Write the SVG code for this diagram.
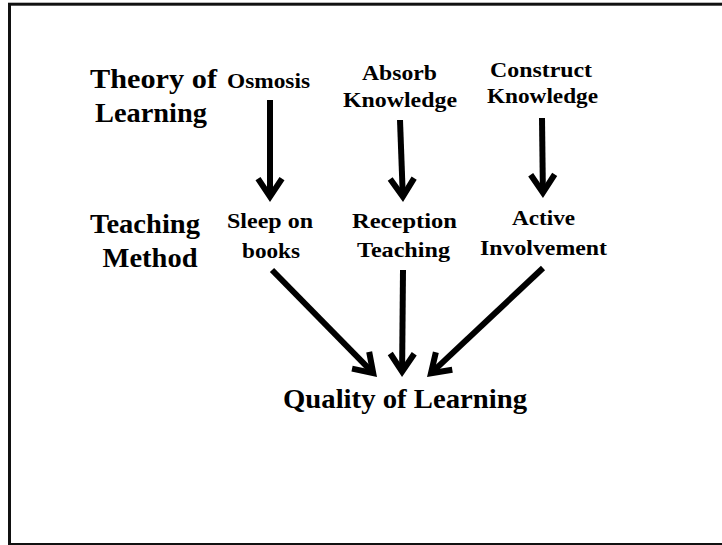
<svg xmlns="http://www.w3.org/2000/svg" width="722" height="545" viewBox="0 0 722 545">
<style>
.big{font-family:"Liberation Serif","Times New Roman",serif;font-weight:bold;font-size:28px;fill:#000;text-anchor:middle}
.sm{font-family:"Liberation Serif","Times New Roman",serif;font-weight:bold;font-size:21px;fill:#000;text-anchor:middle}
.arr{stroke:#000;stroke-width:6;fill:none;stroke-linecap:butt;marker-end:url(#head)}
</style>
<defs>
<marker id="head" viewBox="-22 -16 30 32" markerWidth="30" markerHeight="32" refX="0" refY="0" orient="auto" markerUnits="userSpaceOnUse" overflow="visible">
<path d="M-17.4,-12 L0.6,0 L-17.4,12" fill="none" stroke="#000" stroke-width="6" stroke-linejoin="miter"/>
</marker>
</defs>
<rect x="0" y="0" width="722" height="545" fill="#fff"/>
<rect x="9.5" y="4.2" width="720" height="540.3" fill="none" stroke="#111" stroke-width="3"/>
<g id="theory-label">
<text class="big" x="153.5" y="88" textLength="127" lengthAdjust="spacingAndGlyphs">Theory of</text>
<text class="big" x="151" y="122" textLength="112" lengthAdjust="spacingAndGlyphs">Learning</text>
</g>
<g id="teaching-label">
<text class="big" x="145" y="233" textLength="110" lengthAdjust="spacingAndGlyphs">Teaching</text>
<text class="big" x="150" y="267" textLength="95" lengthAdjust="spacingAndGlyphs">Method</text>
</g>
<g id="osmosis">
<text class="sm" x="268.5" y="88" textLength="83" lengthAdjust="spacingAndGlyphs">Osmosis</text>
</g>
<g id="absorb">
<text class="sm" x="399.5" y="80" textLength="75" lengthAdjust="spacingAndGlyphs">Absorb</text>
<text class="sm" x="400" y="107" textLength="114" lengthAdjust="spacingAndGlyphs">Knowledge</text>
</g>
<g id="construct">
<text class="sm" x="541" y="77" textLength="102" lengthAdjust="spacingAndGlyphs">Construct</text>
<text class="sm" x="542.5" y="103" textLength="111" lengthAdjust="spacingAndGlyphs">Knowledge</text>
</g>
<g id="sleep">
<text class="sm" x="270" y="228" textLength="86" lengthAdjust="spacingAndGlyphs">Sleep on</text>
<text class="sm" x="271" y="258" textLength="58" lengthAdjust="spacingAndGlyphs">books</text>
</g>
<g id="reception">
<text class="sm" x="404.5" y="228" textLength="105" lengthAdjust="spacingAndGlyphs">Reception</text>
<text class="sm" x="403.5" y="257" textLength="93" lengthAdjust="spacingAndGlyphs">Teaching</text>
</g>
<g id="active">
<text class="sm" x="543.5" y="225" textLength="63" lengthAdjust="spacingAndGlyphs">Active</text>
<text class="sm" x="543.5" y="255" textLength="127" lengthAdjust="spacingAndGlyphs">Involvement</text>
</g>
<g id="quality">
<text class="big" x="405" y="408" textLength="244" lengthAdjust="spacingAndGlyphs">Quality of Learning</text>
</g>
<g id="connectors">
<path class="arr" d="M270,100 L270,196"/>
<path class="arr" d="M400,120 L402.8,196"/>
<path class="arr" d="M542,118 L542.9,192"/>
<path class="arr" d="M272,270 L372.8,372.7"/>
<path class="arr" d="M403,270 L402.1,371"/>
<path class="arr" d="M543,268 L431.4,372.9"/>
</g>
</svg>
